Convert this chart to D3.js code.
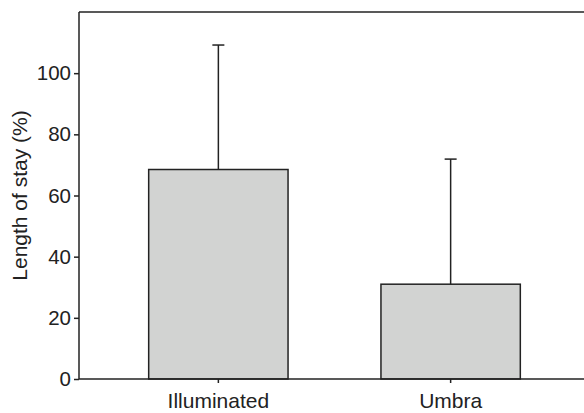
<!DOCTYPE html>
<html><head><meta charset="utf-8">
<script src="https://cdn.jsdelivr.net/npm/d3@7"></script>
<style>body{margin:0;background:#fff}svg{display:block}</style>
</head><body>
<svg id="c" width="584" height="413"></svg>
<script>
const categories = ["Illuminated", "Umbra"];
const means = [68.5, 31.0];
const errorTops = [109.2, 71.9];
const yTicks = [0, 20, 40, 60, 80, 100];
const yLabel = "Length of stay (%)";

(function () {
const svg = d3.select("#c");
const mLeft = 79, mTop = 12, mBottom = 379, rightEnd = 590;
const font = "Liberation Sans, Arial, Helvetica, sans-serif";
const ink = "#222";

const y = d3.scaleLinear().domain([0, 120]).range([mBottom, mTop]);
const x = d3.scaleBand().domain(categories).range([mLeft, rightEnd]).paddingInner(0.4).paddingOuter(0.3);

// bars
svg.selectAll("rect.bar").data(categories).enter().append("rect")
  .attr("x", d => x(d)).attr("y", (d,i) => y(means[i]))
  .attr("width", x.bandwidth()).attr("height", (d,i) => y(0) - y(means[i]))
  .attr("fill", "#d2d3d2").attr("stroke", ink).attr("stroke-width", 1.5);

// error bars
categories.forEach((c, i) => {
  const cx = x(c) + x.bandwidth()/2;
  svg.append("line").attr("x1", cx).attr("x2", cx).attr("y1", y(means[i])).attr("y2", y(errorTops[i]))
    .attr("stroke", ink).attr("stroke-width", 1.5);
  svg.append("line").attr("x1", cx-6).attr("x2", cx+6).attr("y1", y(errorTops[i])).attr("y2", y(errorTops[i]))
    .attr("stroke", ink).attr("stroke-width", 1.5);
});

// y axis
const ya = svg.append("g").attr("transform", `translate(${mLeft},0)`)
  .call(d3.axisLeft(y).tickValues(yTicks).tickSize(5).tickPadding(3).tickSizeOuter(0));
ya.select(".domain").remove();
ya.selectAll(".tick line").attr("stroke", ink).attr("stroke-width", 1.5);
ya.selectAll(".tick text").attr("font-family", font).attr("font-size", 20.5).attr("fill", ink);
svg.append("line").attr("x1", mLeft).attr("x2", mLeft).attr("y1", mTop).attr("y2", mBottom)
  .attr("stroke", ink).attr("stroke-width", 1.5);

// x axis
const xa = svg.append("g").attr("transform", `translate(0,${mBottom})`)
  .call(d3.axisBottom(x).tickSize(4).tickPadding(10).tickSizeOuter(0));
xa.select(".domain").remove();
xa.selectAll(".tick line").attr("stroke", ink).attr("stroke-width", 1.5);
xa.selectAll(".tick text").attr("font-family", font).attr("font-size", 21).attr("fill", ink);
svg.append("line").attr("x1", mLeft).attr("x2", 584).attr("y1", mBottom).attr("y2", mBottom)
  .attr("stroke", ink).attr("stroke-width", 1.5);
// top frame line
svg.append("line").attr("x1", mLeft).attr("x2", 584).attr("y1", mTop).attr("y2", mTop)
  .attr("stroke", ink).attr("stroke-width", 1.5);

// y label
svg.append("text").attr("transform", `translate(27,${(mTop+mBottom)/2}) rotate(-90)`)
  .attr("text-anchor", "middle").attr("font-family", font).attr("font-size", 21).attr("fill", ink)
  .text(yLabel);
})();
</script>
</body></html>
